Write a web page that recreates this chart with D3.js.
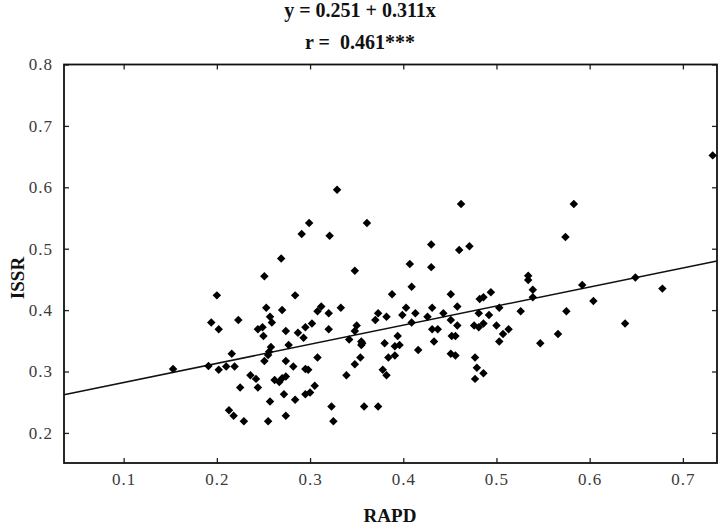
<!DOCTYPE html>
<html><head><meta charset="utf-8">
<script src="https://cdn.jsdelivr.net/npm/d3@7"></script>
<style>html,body{margin:0;padding:0;background:#fff;}</style>
</head><body>
<svg id="c" width="718" height="525"></svg>
<script>
const titleLines = ["y = 0.251 + 0.311x", "r =  0.461***"];
const xLabel = "RAPD";
const yLabel = "ISSR";
const xTicks = [0.1, 0.2, 0.3, 0.4, 0.5, 0.6, 0.7];
const yTicks = [0.2, 0.3, 0.4, 0.5, 0.6, 0.7, 0.8];
const intercept = 0.251;
const slope = 0.311;
const rapd = [0.153,0.191,0.200,0.194,0.202,0.202,0.210,0.219,0.216,0.223,0.213,0.218,0.229,0.225,0.236,0.242,0.244,0.255,0.257,0.251,
0.269,0.253,0.257,0.259,0.270,0.244,0.249,0.250,0.274,0.258,0.256,0.255,0.251,0.274,0.262,0.267,0.270,0.274,0.272,0.274,
0.277,0.284,0.329,0.299,0.291,0.321,0.361,0.348,0.312,0.308,0.320,0.333,0.302,0.295,0.287,0.293,0.320,0.282,0.295,0.298,
0.308,0.305,0.300,0.295,0.284,0.323,0.325,0.358,0.373,0.339,0.348,0.354,0.342,0.348,0.350,0.355,0.355,0.356,0.370,0.373,
0.382,0.388,0.407,0.409,0.430,0.430,0.403,0.399,0.413,0.409,0.426,0.431,0.431,0.394,0.380,0.391,0.396,0.391,0.384,0.416,
0.378,0.382,0.433,0.462,0.460,0.471,0.451,0.443,0.458,0.451,0.458,0.437,0.452,0.456,0.451,0.456,0.482,0.486,0.494,0.481,
0.492,0.503,0.476,0.481,0.486,0.500,0.507,0.513,0.503,0.477,0.479,0.486,0.477,0.526,0.534,0.534,0.539,0.539,0.547,0.566,
0.575,0.574,0.583,0.592,0.604,0.638,0.649,0.678,0.732];
const issr = [0.304,0.309,0.424,0.380,0.369,0.303,0.308,0.308,0.329,0.384,0.237,0.228,0.219,0.274,0.294,0.288,0.274,0.219,0.251,0.455,
0.484,0.404,0.389,0.380,0.400,0.369,0.372,0.358,0.366,0.340,0.332,0.327,0.317,0.317,0.286,0.283,0.289,0.292,0.263,0.228,
0.343,0.424,0.596,0.542,0.524,0.521,0.542,0.464,0.406,0.398,0.395,0.404,0.378,0.372,0.363,0.355,0.369,0.308,0.304,0.303,
0.323,0.277,0.266,0.263,0.254,0.243,0.219,0.243,0.243,0.294,0.312,0.323,0.352,0.366,0.375,0.349,0.343,0.346,0.384,0.395,
0.389,0.426,0.475,0.438,0.507,0.470,0.404,0.392,0.395,0.380,0.389,0.404,0.369,0.358,0.346,0.341,0.343,0.326,0.323,0.335,
0.303,0.294,0.349,0.573,0.498,0.504,0.426,0.395,0.406,0.384,0.375,0.369,0.358,0.358,0.329,0.326,0.418,0.421,0.429,0.395,
0.392,0.404,0.375,0.372,0.378,0.375,0.361,0.369,0.349,0.323,0.306,0.297,0.288,0.398,0.456,0.449,0.433,0.421,0.346,0.361,
0.398,0.519,0.573,0.441,0.415,0.378,0.453,0.435,0.652];

const svg = d3.select("#c");
const L = 64, R = 717, T = 64.5, B = 463;
const x = d3.scaleLinear().domain([0.036, 0.7366]).range([L, R]);
const y = d3.scaleLinear().domain([0.151, 0.8]).range([B, T]);
const serif = "'Liberation Serif','Times New Roman',serif";

// title
svg.selectAll("text.title").data(titleLines).enter().append("text")
  .attr("class","title")
  .attr("x", 360).attr("y", (d,i)=> 17 + i*32)
  .attr("text-anchor","middle")
  .style("font-family", serif).style("font-weight","bold").style("font-size","20px")
  .style("fill","#111")
  .style("white-space","pre")
  .attr("xml:space","preserve")
  .text(d=>d);

const g = svg.append("g");
const tickLen = 5;

const xb = g.append("g").attr("transform",`translate(0,${B})`)
  .call(d3.axisBottom(x).tickValues(xTicks).tickSizeInner(-tickLen).tickSizeOuter(0).tickPadding(10).tickFormat(d3.format(".1f")));
const xt = g.append("g").attr("transform",`translate(0,${T})`)
  .call(d3.axisTop(x).tickValues(xTicks).tickSizeInner(-tickLen).tickSizeOuter(0).tickFormat(""));
const yl = g.append("g").attr("transform",`translate(${L},0)`)
  .call(d3.axisLeft(y).tickValues(yTicks).tickSizeInner(-tickLen).tickSizeOuter(0).tickPadding(11).tickFormat(d3.format(".1f")));
const yr = g.append("g").attr("transform",`translate(${R},0)`)
  .call(d3.axisRight(y).tickValues(yTicks).tickSizeInner(-tickLen).tickSizeOuter(0).tickFormat(""));

[xb,xt,yl,yr].forEach(a=>{
  a.select(".domain").remove();
  a.selectAll(".tick line").attr("stroke","#222").attr("stroke-width",1.3);
  a.selectAll(".tick text").style("font-family",serif).style("font-size","17px").style("fill","#3a3a3a").style("letter-spacing","1px");
});

g.append("rect").attr("x",L).attr("y",T).attr("width",R-L).attr("height",B-T)
  .attr("fill","none").attr("stroke","#111").attr("stroke-width",1.8);

const [x0,x1] = x.domain();
g.append("line")
  .attr("x1", x(x0)).attr("y1", y(intercept + slope*x0))
  .attr("x2", x(x1)).attr("y2", y(intercept + slope*x1))
  .attr("stroke","#111").attr("stroke-width",1.5);

const pts = rapd.map((v,i)=>({x:v, y:issr[i]}));
const sym = d3.symbol().type(d3.symbolSquare).size(36);
g.append("g").selectAll("path").data(pts).enter().append("path")
  .attr("d", sym)
  .attr("transform", d=>`translate(${x(d.x)},${y(d.y)}) rotate(45)`)
  .attr("fill","#000");

svg.append("text").attr("x", 390).attr("y", 522).attr("text-anchor","middle")
  .style("font-family",serif).style("font-weight","bold").style("font-size","19px").style("fill","#111")
  .text(xLabel);
svg.append("text").attr("transform","translate(24,278) rotate(-90)").attr("text-anchor","middle")
  .style("font-family",serif).style("font-weight","bold").style("font-size","19px").style("fill","#111")
  .text(yLabel);
</script>
</body></html>
